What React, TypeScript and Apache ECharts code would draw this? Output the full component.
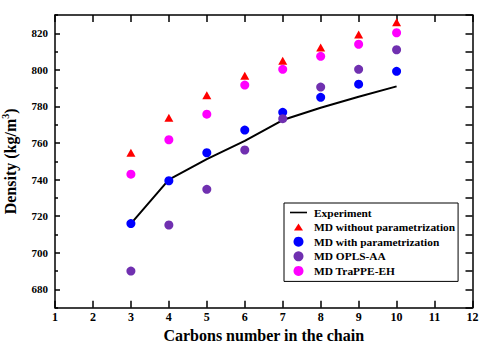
import React, { useEffect, useRef } from 'react';
import * as echarts from 'echarts';

const carbons = [3, 4, 5, 6, 7, 8, 9, 10];
const experiment = [716, 740, 751.2, 761.2, 772.6, 779.3, 785.3, 791];
const mdWithout = [754.7, 773.8, 786.2, 796.8, 805, 812.3, 819.4, 826];
const mdWith = [716, 739.4, 754.7, 767.1, 776.8, 785, 792.2, 799.2];
const mdOpls = [690, 715.2, 734.7, 756.2, 773.3, 790.6, 800.3, 811];
const mdTrappe = [743, 761.8, 775.8, 791.7, 800.3, 807.4, 814, 820.3];

const seriesNames = [
  'Experiment',
  'MD without parametrization',
  'MD with parametrization',
  'MD OPLS-AA',
  'MD TraPPE-EH',
];
const yLabelTicks = [680, 700, 720, 740, 760, 780, 800, 820];
const yMinorTicks = [670, 690, 710, 730, 750, 770, 790, 810, 830];

const FONT = '"Liberation Serif", "Times New Roman", serif';

const pts = (ys: number[]) => carbons.map((c, i) => [c, ys[i]]);

export default function App() {
  const ref = useRef<HTMLDivElement>(null);
  useEffect(() => {
    const chart = echarts.init(ref.current!, null, { renderer: 'svg' });
    const axisLine = { show: true, lineStyle: { color: '#000', width: 1.5 } };
    const tickStyle = { color: '#000', width: 1.5 };
    chart.setOption({
      animation: false,
      backgroundColor: '#fff',
      grid: {
        left: 55,
        right: 11.5,
        top: 15,
        bottom: 38.3,
        containLabel: false,
        outerBoundsMode: 'none',
      },
      legend: {
        orient: 'vertical',
        left: 284,
        top: 203,
        backgroundColor: '#fff',
        borderColor: '#000',
        borderWidth: 1,
        borderRadius: 0,
        padding: [4, 3, 5, 6],
        itemWidth: 17,
        itemHeight: 10,
        itemGap: 3.6,
        textStyle: {
          fontFamily: FONT,
          fontWeight: 'bold',
          fontSize: 11.4,
          color: '#000',
          lineHeight: 10,
          padding: [0, 0, 0, 2],
        },
        data: [
          { name: seriesNames[0], icon: 'path://M0,0L0,0M0,4.2H17V5.8H0Z M17,10L17,10' },
          { name: seriesNames[1], icon: 'path://M0,0L0,0M5.5,1.5L10,8.5H1Z M11,10L11,10' },
          { name: seriesNames[2], icon: 'circle' },
          { name: seriesNames[3], icon: 'circle' },
          { name: seriesNames[4], icon: 'circle' },
        ],
      },
      xAxis: [
        {
          type: 'value',
          min: 1,
          max: 12,
          interval: 1,
          position: 'bottom',
          axisLine,
          axisTick: { show: true, inside: true, length: 7, lineStyle: tickStyle },
          axisLabel: { fontFamily: FONT, fontWeight: 'bold', fontSize: 12, color: '#000', margin: 3 },
          splitLine: { show: false },
          name: 'Carbons number in the chain',
          nameLocation: 'middle',
          nameGap: 9,
          nameTextStyle: { fontFamily: FONT, fontWeight: 'bold', fontSize: 16, color: '#000' },
        },
        {
          type: 'value',
          min: 1,
          max: 12,
          interval: 1,
          position: 'top',
          axisLine,
          axisTick: { show: true, inside: true, length: 7, lineStyle: tickStyle },
          axisLabel: { show: false },
          splitLine: { show: false },
        },
      ],
      yAxis: [
        {
          type: 'value',
          min: 670,
          max: 830,
          position: 'left',
          axisLine,
          axisTick: { show: true, inside: true, length: 5, lineStyle: tickStyle, customValues: yLabelTicks },
          axisLabel: {
            fontFamily: FONT,
            fontWeight: 'bold',
            fontSize: 11,
            color: '#000',
            margin: 7,
            customValues: yLabelTicks,
          },
          splitLine: { show: false },
          name: '{a|Density (kg/m}{b|3}{a|)}',
          nameLocation: 'middle',
          nameGap: 26,
          nameTextStyle: {
            rich: {
              a: { fontFamily: FONT, fontWeight: 'bold', fontSize: 16, color: '#000', lineHeight: 16 },
              b: {
                fontFamily: FONT,
                fontWeight: 'bold',
                fontSize: 10,
                color: '#000',
                lineHeight: 10,
                padding: [0, 0, 10, 0],
              },
            },
          },
        },
        {
          type: 'value',
          min: 670,
          max: 830,
          position: 'left',
          axisLine: { show: false },
          axisTick: { show: true, inside: true, length: 3, lineStyle: tickStyle, customValues: yMinorTicks },
          axisLabel: { show: false },
          splitLine: { show: false },
        },
        {
          type: 'value',
          min: 670,
          max: 830,
          interval: 10,
          position: 'right',
          axisLine,
          axisTick: { show: true, inside: true, length: 7, lineStyle: tickStyle },
          axisLabel: { show: false },
          splitLine: { show: false },
        },
      ],
      series: [
        {
          name: seriesNames[0],
          type: 'line',
          data: pts(experiment),
          symbol: 'none',
          showSymbol: false,
          lineStyle: { color: '#000', width: 2 },
          itemStyle: { color: '#000' },
          z: 1,
        },
        {
          name: seriesNames[1],
          type: 'scatter',
          data: pts(mdWithout),
          symbol: 'triangle',
          symbolSize: [9, 8],
          itemStyle: { color: '#ff0000', opacity: 1 },
          z: 2,
        },
        {
          name: seriesNames[2],
          type: 'scatter',
          data: pts(mdWith),
          symbol: 'circle',
          symbolSize: 9,
          itemStyle: { color: '#0000ff', opacity: 1 },
          z: 2,
        },
        {
          name: seriesNames[3],
          type: 'scatter',
          data: pts(mdOpls),
          symbol: 'circle',
          symbolSize: 9,
          itemStyle: { color: '#7030b0', opacity: 1 },
          z: 2,
        },
        {
          name: seriesNames[4],
          type: 'scatter',
          data: pts(mdTrappe),
          symbol: 'circle',
          symbolSize: 9,
          itemStyle: { color: '#ff00ff', opacity: 1 },
          z: 2,
        },
      ],
    });
    return () => chart.dispose();
  }, []);
  return (
    <div
      ref={ref}
      style={{ position: 'fixed', left: 0, top: 0, width: 484, height: 346, background: '#fff' }}
    />
  );
}
